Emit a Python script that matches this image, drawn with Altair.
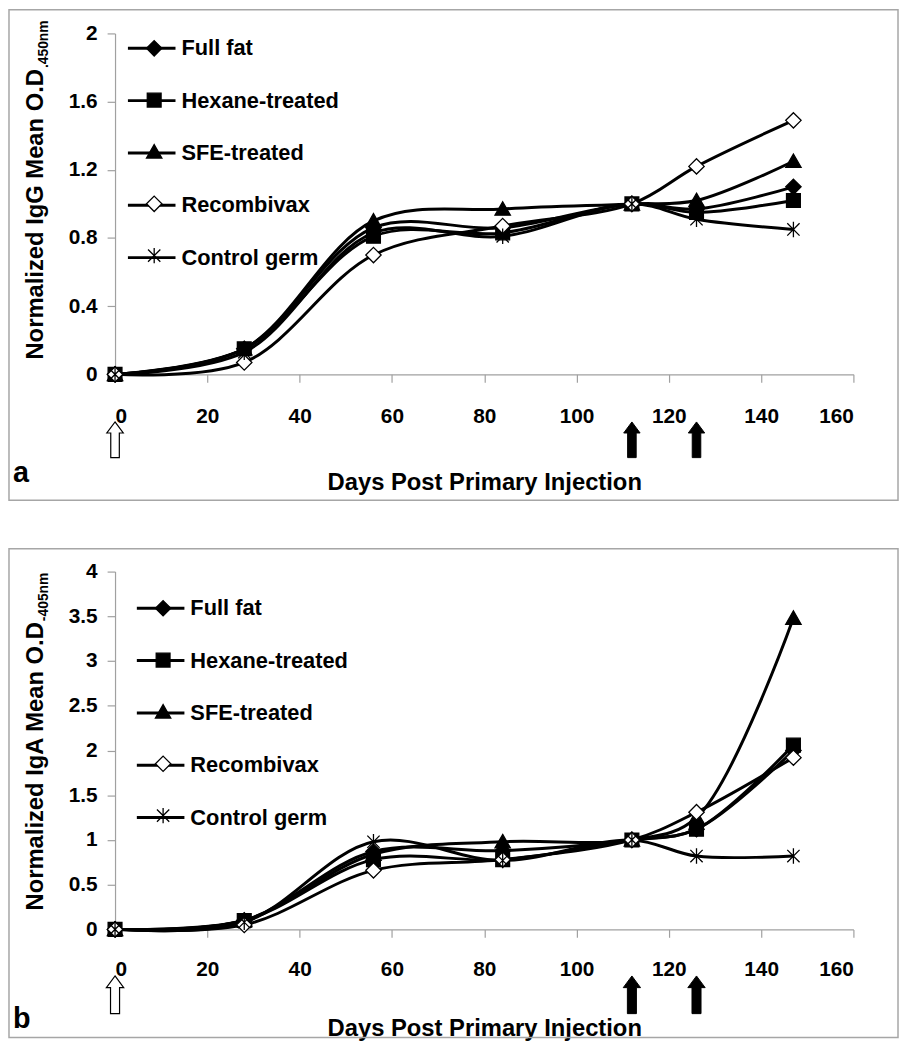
import altair as alt
import pandas as pd

# ---------------- data ----------------
days = [0, 28, 56, 84, 112, 126, 147]
series_names = ["Full fat", "Hexane-treated", "SFE-treated", "Recombivax", "Control germ"]
marker_keys = ["m1", "m2", "m3", "m4", "m5"]

# Panel a: IgG
igg_full_fat = [0, 0.15, 0.86, 0.86, 1.0, 0.97, 1.10]
igg_hexane = [0, 0.15, 0.81, 0.83, 1.0, 0.95, 1.02]
igg_sfe = [0, 0.15, 0.90, 0.97, 1.0, 1.02, 1.25]
igg_recombivax = [0, 0.07, 0.70, 0.87, 1.0, 1.22, 1.49]
igg_control = [0, 0.13, 0.83, 0.81, 1.0, 0.91, 0.85]

# Panel b: IgA
iga_full_fat = [0, 0.10, 0.87, 0.88, 1.0, 1.12, 2.00]
iga_hexane = [0, 0.10, 0.78, 0.78, 1.0, 1.12, 2.06]
iga_sfe = [0, 0.10, 0.84, 0.98, 1.0, 1.25, 3.48]
iga_recombivax = [0, 0.05, 0.66, 0.78, 1.0, 1.31, 1.92]
iga_control = [0, 0.08, 0.98, 0.77, 1.0, 0.82, 0.82]

open_arrow_days = [0]
boost_days = [112, 126]

x_ticks = [0, 20, 40, 60, 80, 100, 120, 140, 160]
igg_ticks = [0, 0.2, 0.4, 0.6, 0.8, 1.0, 1.2, 1.4, 1.6, 1.8, 2.0]
iga_ticks = [0, 0.5, 1.0, 1.5, 2.0, 2.5, 3.0, 3.5, 4.0]

FONT = "Liberation Sans"

DIAMOND = "M0,-1L1,0L0,1L-1,0Z"
SQUARE = "M-0.9,-0.9L0.9,-0.9L0.9,0.9L-0.9,0.9Z"
TRIANGLE = "M0,-0.95L1,0.8L-1,0.8Z"
ASTERISK = "M-0.8,-0.8L0.8,0.8M-0.8,0.8L0.8,-0.8M0,-1L0,1"
ARROW = "M0,-1L0.46,-0.38L0.24,-0.38L0.24,1L-0.24,1L-0.24,-0.38L-0.46,-0.38Z"

marker_shapes = [DIAMOND, SQUARE, TRIANGLE, DIAMOND, ASTERISK]
marker_fills = ["black", "black", "black", "white", "transparent"]


def long_df(values_by_series):
    rows = []
    for name, key, vals in zip(series_names, marker_keys, values_by_series):
        for d, v in zip(days, vals):
            rows.append({"day": d, "value": v, "series": name, "marker": key})
    return pd.DataFrame(rows)


def panel(df, y_ticks, y_max, height, y_title, y_sub, title_y, sub_y,
          x_label_pad, x_title_pad,
          leg_row1, leg_center_x, leg_label_x, arrow_y, arrow_size,
          border_y1, border_y2, letter, letter_y):
    x_enc = alt.X(
        "day:Q",
        scale=alt.Scale(domain=[0, 160], nice=False),
        axis=alt.Axis(values=x_ticks, title="Days Post Primary Injection",
                      labelPadding=x_label_pad, titlePadding=x_title_pad,
                      labelOverlap=False),
    )
    y_enc = alt.Y(
        "value:Q",
        scale=alt.Scale(domain=[0, y_max], nice=False),
        axis=alt.Axis(values=y_ticks, format="~g", title=y_title,
                      labelPadding=10, titlePadding=21, titleY=title_y,
                      labelOverlap=False),
    )

    row_step = 52.3
    # line legend: column width = 48 + 3, entry height ~36.5, centre 25.5 below top
    stroke_w = 48 + 3
    lines = alt.Chart(df).mark_line(
        interpolate="catmull-rom", strokeWidth=3
    ).encode(
        x=x_enc,
        y=y_enc,
        color=alt.Color(
            "series:N",
            scale=alt.Scale(domain=series_names, range=["black"] * 5),
            legend=alt.Legend(
                title=None, orient="none", symbolType="stroke",
                symbolSize=48 * 48, symbolStrokeWidth=3,
                legendX=leg_center_x - stroke_w / 2, legendY=leg_row1 - 25.5,
                rowPadding=row_step - 36.5,
                labelOffset=leg_label_x - (leg_center_x - stroke_w / 2) - stroke_w,
            ),
        ),
    )

    # marker legend: column width 17, entry height 22, centre 11 below top
    mark_w = 17
    points = alt.Chart(df).mark_point(
        filled=False, size=240, strokeWidth=1.3, opacity=1
    ).encode(
        x="day:Q",
        y="value:Q",
        shape=alt.Shape(
            "marker:N",
            scale=alt.Scale(domain=marker_keys, range=marker_shapes),
            legend=alt.Legend(
                title=None, orient="none", symbolSize=240,
                symbolStrokeWidth=1.3,
                legendX=leg_center_x - mark_w / 2, legendY=leg_row1 - 11,
                rowPadding=row_step - 22,
                labelExpr="''",
            ),
        ),
        fill=alt.Fill(
            "marker:N",
            scale=alt.Scale(domain=marker_keys, range=marker_fills),
        ),
        stroke=alt.Stroke(
            "marker:N",
            scale=alt.Scale(domain=marker_keys, range=["black"] * 5),
        ),
    )

    open_arrow = alt.Chart(pd.DataFrame({"day": open_arrow_days})).mark_point(
        shape=ARROW, size=arrow_size, filled=True, fill="white",
        stroke="black", strokeWidth=1.2, opacity=1
    ).encode(x="day:Q", y=alt.value(arrow_y))

    boost_arrows = alt.Chart(pd.DataFrame({"day": boost_days})).mark_point(
        shape=ARROW, size=arrow_size, filled=True, fill="black",
        stroke="black", strokeWidth=1, opacity=1
    ).encode(x="day:Q", y=alt.value(arrow_y))

    one = pd.DataFrame({"k": [letter], "sub": [y_sub]})
    border = alt.Chart(one).mark_rect(
        fillOpacity=0, stroke="#a6a6a6", strokeWidth=1.5
    ).encode(
        x=alt.value(-107), x2=alt.value(790),
        y=alt.value(border_y1), y2=alt.value(border_y2),
    )
    label = alt.Chart(one).mark_text(
        align="left", baseline="middle", fontSize=29, fontWeight="bold",
        font=FONT, color="black"
    ).encode(x=alt.value(-103), y=alt.value(letter_y), text="k:N")

    subscript = alt.Chart(one).mark_text(
        align="left", baseline="alphabetic", angle=270, fontSize=14,
        fontWeight="bold", font=FONT, color="black"
    ).encode(x=alt.value(-68), y=alt.value(sub_y), text="sub:N")

    return alt.layer(
        border, lines, points, open_arrow, boost_arrows, label, subscript
    ).properties(width=745, height=height)


panel_a = panel(
    long_df([igg_full_fat, igg_hexane, igg_sfe, igg_recombivax, igg_control]),
    igg_ticks, 2, 344, "Normalized IgG Mean O.D", ".450nm", 182, 35, 24, 44,
    15, 37, 67, 410, 1296, -24, 471, "a", 444,
)
panel_b = panel(
    long_df([iga_full_fat, iga_hexane, iga_sfe, iga_recombivax, iga_control]),
    iga_ticks, 4, 361, "Normalized IgA Mean O.D", "-405nm", 196, 50, 22, 37,
    37, 46, 76, 427, 1444, -23, 470, "b", 452,
)

chart = alt.vconcat(panel_a, panel_b, spacing=47).resolve_scale(
    x="independent", y="independent", shape="independent",
    fill="independent", stroke="independent", color="independent"
).properties(
    padding={"left": 0, "top": -4, "right": 0, "bottom": 0}
).configure(
    font=FONT
).configure_view(
    strokeWidth=0
).configure_axis(
    grid=False,
    labelFont=FONT, labelFontSize=21, labelFontWeight="bold", labelColor="black",
    titleFont=FONT, titleFontSize=24, titleFontWeight="bold", titleColor="black",
    domainColor="#a0a0a0", domainWidth=1.2, tickColor="#a0a0a0", tickSize=8,
    tickWidth=1.2,
).configure_legend(
    labelFont=FONT, labelFontSize=22, labelFontWeight="bold", labelColor="black",
    padding=0, labelLimit=400,
)

chart.save("out.html", embed_options={"renderer": "svg", "actions": False})
